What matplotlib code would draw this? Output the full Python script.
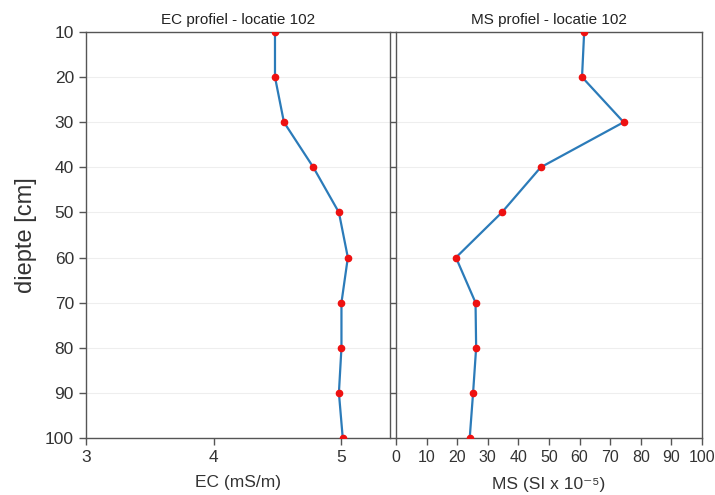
import matplotlib
matplotlib.use("Agg")
import matplotlib.pyplot as plt

plt.rcParams['font.family'] = ['Liberation Sans', 'DejaVu Sans']

# diepte en meetwaarden
depth = [10, 20, 30, 40, 50, 60, 70, 80, 90, 100]
ec = [4.48, 4.48, 4.55, 4.78, 4.98, 5.05, 5.00, 5.00, 4.98, 5.01]
ms = [61.5, 60.8, 74.4, 47.3, 34.6, 19.6, 26.0, 26.2, 25.2, 24.1]

ec_ticks = [3, 4, 5]
ms_ticks = list(range(0, 101, 10))

line_color = '#2b7bb9'
dot_color = '#ee1111'
spine_color = '#555555'

fig = plt.figure(figsize=(7.15, 4.95), dpi=100)
ax1 = fig.add_axes([0.120, 0.1152, 0.4255, 0.8202])
ax2 = fig.add_axes([0.5538, 0.1152, 0.428, 0.8202])

for ax in (ax1, ax2):
    ax.set_ylim(100, 10)
    ax.set_yticks(depth)
    ax.grid(axis='y', color='#eeeeee', linewidth=0.8)
    ax.set_axisbelow(True)
    for sp in ax.spines.values():
        sp.set_color(spine_color)
        sp.set_linewidth(1.0)
    ax.tick_params(colors=spine_color, labelcolor='#333333', length=5, width=1.0)

# EC profiel
ax1.plot(ec, depth, color=line_color, linewidth=1.6, zorder=2)
ax1.plot(ec, depth, 'o', color=dot_color, markersize=4.5, zorder=3)
ax1.set_xlim(3, 5.38)
ax1.set_xticks(ec_ticks)
ax1.tick_params(axis='both', labelsize=12.5)
ax1.set_title('EC profiel - locatie 102', fontsize=11, color='#222222', pad=6)
ax1.set_xlabel('EC (mS/m)', fontsize=12.5, color='#333333', labelpad=7)
ax1.set_ylabel('diepte [cm]', fontsize=17, color='#333333', labelpad=6)

# MS profiel
ax2.plot(ms, depth, color=line_color, linewidth=1.6, zorder=2)
ax2.plot(ms, depth, 'o', color=dot_color, markersize=4.5, zorder=3)
ax2.set_xlim(0, 100)
ax2.set_xticks(ms_ticks)
ax2.tick_params(axis='x', labelsize=11.5)
ax2.tick_params(axis='y', labelleft=False, length=4)
ax2.set_title('MS profiel - locatie 102', fontsize=11, color='#222222', pad=6)
ax2.set_xlabel('MS (SI x 10\u207b\u2075)', fontsize=12.5, color='#333333', labelpad=9)

fig.savefig('out.png', dpi=100)
